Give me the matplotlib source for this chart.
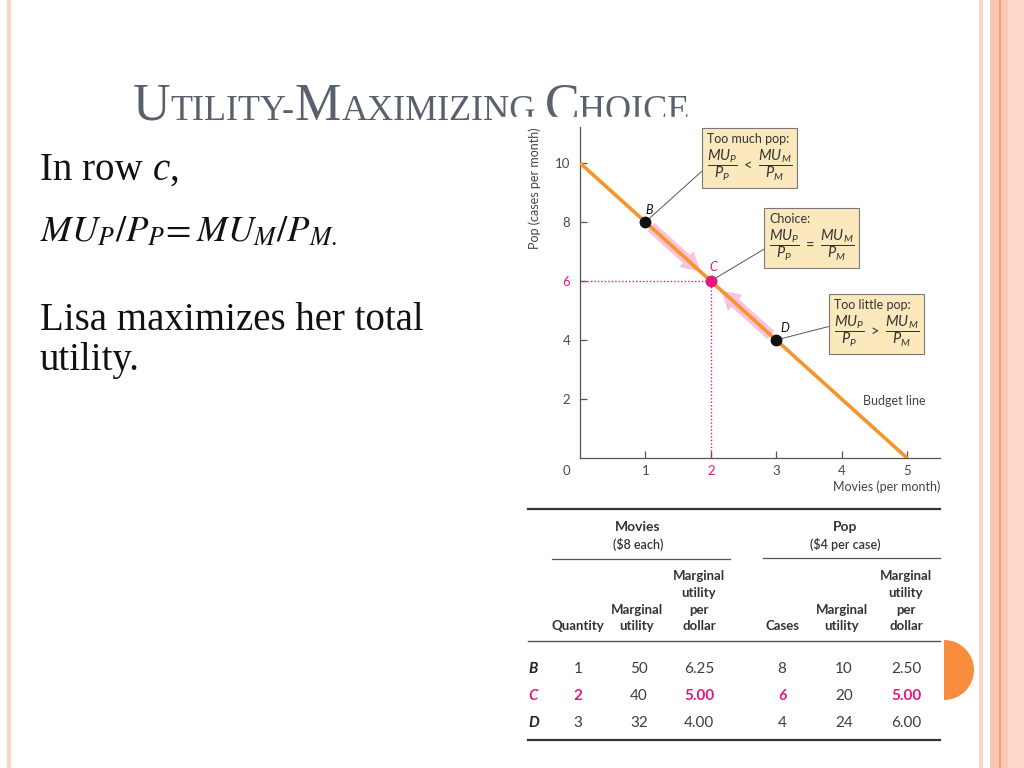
import matplotlib
matplotlib.use("Agg")
import matplotlib.pyplot as plt
from matplotlib.patches import FancyArrowPatch, Rectangle, Wedge
from matplotlib.offsetbox import TextArea, VPacker, AnnotationBbox

# budget line and the three bundles on it
budget_movies = [0, 5]
budget_pop = [10, 0]
point_labels = ["B", "C", "D"]
point_movies = [1, 2, 3]
point_pop = [8, 6, 4]
choice = 1  # row C is the chosen bundle

x_ticks = [1, 2, 3, 4, 5]
y_ticks = [2, 4, 6, 8, 10]

# callout boxes
box_titles = ["Too much pop:", "Choice:", "Too little pop:"]
box_signs = ["<", "=", ">"]

# table
price_movies = 8
price_pop = 4
mu_movies = [50, 40, 32]
mu_per_dollar_movies = [6.25, 5.00, 4.00]
mu_pop = [10, 20, 24]
mu_per_dollar_pop = [2.50, 5.00, 6.00]

ORANGE = "#f5952b"
PINK = "#e5177d"
PINK_LIGHT = "#f9c3de"
BOX = "#fbe9bd"
INK = "#3d3d3d"
SANS = "Lato"
SERIF = "Liberation Serif"

plt.rcParams["mathtext.fontset"] = "custom"
plt.rcParams["mathtext.it"] = "Lato:italic"
plt.rcParams["mathtext.rm"] = "Lato"
plt.rcParams["mathtext.sf"] = "Lato"

fig = plt.figure(figsize=(10.24, 7.68), dpi=100)
fig.patch.set_facecolor("white")
renderer = fig.canvas.get_renderer()

# slide background, pixel coordinates
bg = fig.add_axes([0, 0, 1, 1])
bg.set_xlim(0, 1024)
bg.set_ylim(768, 0)
bg.axis("off")

for x0, x1, c in [(7, 11, "#fcd3c4"), (979, 983, "#fcd5c5"), (990, 999, "#f9c6b0"),
                  (999, 1000.5, "#f2a07e"), (1000.5, 1008, "#fbcab5"), (1008, 1024, "#fdd8c8")]:
    bg.axvspan(x0, x1, color=c, lw=0)
bg.add_patch(Wedge((944, 670), 30, -90, 90, color="#f98c3d", lw=0))


def runs(x, y, parts, **kw):
    for s, props in parts:
        t = bg.text(x, y, s, va="baseline", ha="left", **kw, **props)
        x += t.get_window_extent(renderer).width
    return x


# title in small caps
big, small = 37.5, 26
runs(133, 120, [("U", {"fontsize": big}), ("TILITY-", {"fontsize": small}),
                ("M", {"fontsize": big}), ("AXIMIZING", {"fontsize": small}),
                ("\u00a0", {"fontsize": small}),
                ("C", {"fontsize": big}), ("HOICE", {"fontsize": small})],
     family=SERIF, color="#5a616d")
bg.add_patch(Rectangle((498, 117), 260, 14, color="white", zorder=5))

# left text
body = 28
runs(40, 180, [("In row ", {}), ("c", {"style": "italic"}), (",", {})],
     family=SERIF, fontsize=body, color="#111111")
bg.text(40, 241, r"$MU_P/P_P\!= MU_M/P_{M.}$", math_fontfamily="stix",
        fontsize=26.5, color="#111111", va="baseline")
bg.text(40, 330, "Lisa maximizes her total", family=SERIF, fontsize=body,
        color="#111111", va="baseline")
bg.text(40, 370, "utility.", family=SERIF, fontsize=body, color="#111111",
        va="baseline")

# chart
ax = fig.add_axes([580 / 1024, 1 - 458 / 768, 360 / 1024, 331 / 768])
ax.set_facecolor("none")
ax.set_xlim(0, 360 / 65.4)
ax.set_ylim(0, 331 / 29.5)
for side in ("top", "right"):
    ax.spines[side].set_visible(False)
for side in ("left", "bottom"):
    ax.spines[side].set_color("#555555")
    ax.spines[side].set_linewidth(0.9)

ax.set_xticks(x_ticks, labels=[str(v) for v in x_ticks])
ax.set_yticks(y_ticks, labels=[str(v) for v in y_ticks])
ax.tick_params(direction="in", length=5, width=0.9, color="#555555",
               labelcolor="#4a4a4a", labelsize=9.5)
ax.tick_params(axis="x", pad=5)
ax.tick_params(axis="y", pad=7)
for lab in ax.get_xticklabels() + ax.get_yticklabels():
    lab.set_family(SANS)
ax.get_xticklabels()[x_ticks.index(point_movies[choice])].set_color(PINK)
ax.get_yticklabels()[y_ticks.index(point_pop[choice])].set_color(PINK)
ax.annotate("0", xy=(0, 0), xytext=(-10, -9.5), textcoords="offset points",
            ha="center", va="center", family=SANS, fontsize=9.5, color="#4a4a4a")

ax.text(-0.125, 1.0, "Pop (cases per month)", rotation=90, va="top", ha="center",
        transform=ax.transAxes, family=SANS, fontsize=9, color="#444444")
ax.text(1.0, -0.088, "Movies (per month)", ha="right", va="center",
        transform=ax.transAxes, family=SANS, fontsize=9, color="#444444")

ax.plot(budget_movies, budget_pop, color=ORANGE, lw=2.6, solid_capstyle="butt", zorder=3)
ax.text(4.33, 1.93, "Budget line", ha="left", va="center", family=SANS,
        fontsize=9, color="#444444")

cx, cy = point_movies[choice], point_pop[choice]
ax.plot([0, cx], [cy, cy], color=PINK, lw=1, ls=(0, (1, 1.5)), zorder=2)
ax.plot([cx, cx], [0, cy], color=PINK, lw=1, ls=(0, (1, 1.5)), zorder=2)

for i in range(len(point_movies)):
    if i == choice:
        continue
    px, py = point_movies[i], point_pop[i]
    start = (px + 0.05 * (cx - px), py + 0.05 * (cy - py))
    end = (cx - 0.13 * (cx - px), cy - 0.13 * (cy - py))
    ax.add_patch(FancyArrowPatch(start, end, color=PINK_LIGHT, lw=0, zorder=2,
                                 arrowstyle="simple,head_width=2.2,head_length=1.9,tail_width=1.1",
                                 mutation_scale=7))

label_offsets = [(3, 9), (2, 10), (6, 8.5)]
box_xy = [(0.353, 0.982), (0.525, 0.740), (0.705, 0.480)]
box_rel = [(0, 0.33), (0, 0.34), (0, 0.48)]
for i, lab in enumerate(point_labels):
    col = PINK if i == choice else "#111111"
    ax.plot(point_movies[i], point_pop[i], "o", color=col, ms=7.5, zorder=5)
    ax.annotate(lab, xy=(point_movies[i], point_pop[i]), xytext=label_offsets[i],
                textcoords="offset points", ha="center", va="center",
                family=SANS, style="italic", fontsize=9, color=col)
    frac = r"$\dfrac{MU_P}{P_P}\ %s\ \dfrac{MU_M}{P_M}$" % box_signs[i]
    content = VPacker(children=[
        TextArea(box_titles[i], textprops=dict(family=SANS, fontsize=9, color="#333333")),
        TextArea(frac, textprops=dict(family=SANS, fontsize=10.5, color="#333333",
                                      math_fontfamily="custom")),
    ], align="left", pad=0, sep=2)
    ab = AnnotationBbox(content, (point_movies[i], point_pop[i]), xybox=box_xy[i],
                        boxcoords="axes fraction", box_alignment=(0, 1), pad=0.3,
                        bboxprops=dict(fc=BOX, ec="#7a7a7a", lw=0.8, boxstyle="square,pad=0.35"),
                        arrowprops=dict(arrowstyle="-", color="#555555", lw=0.7,
                                        shrinkA=0, shrinkB=0, relpos=box_rel[i]),
                        zorder=4)
    ax.add_artist(ab)

# table
bg.plot([528, 940], [509, 509], color="#333333", lw=1.6)
bg.plot([552, 730], [559, 559], color="#555555", lw=0.9)
bg.plot([763, 940], [558, 558], color="#555555", lw=0.9)
bg.plot([528, 940], [641, 641], color="#555555", lw=1.0)
bg.plot([528, 940], [740, 740], color="#333333", lw=1.6)

group_x = [638, 845]
group_names = ["Movies", "Pop"]
group_prices = ["(\\$%d each)" % price_movies, "(\\$%d per case)" % price_pop]
for gx, name, price in zip(group_x, group_names, group_prices):
    bg.text(gx, 531, name, ha="center", va="baseline", family=SANS,
            weight="bold", fontsize=10, color="#333333")
    bg.text(gx, 549, price, ha="center", va="baseline", family=SANS,
            weight="semibold", fontsize=9, color="#333333")

col_x = [578, 637, 699, 782, 842, 906]
col_heads = [["Quantity"], ["Marginal", "utility"], ["Marginal", "utility", "per", "dollar"],
             ["Cases"], ["Marginal", "utility"], ["Marginal", "utility", "per", "dollar"]]
for x, lines in zip(col_x, col_heads):
    for k, line in enumerate(reversed(lines)):
        bg.text(x, 630 - 16.5 * k, line, ha="center", va="baseline", family=SANS,
                weight="bold", fontsize=9.5, color="#333333")

columns = [
    [str(v) for v in point_movies],
    [str(v) for v in mu_movies],
    ["%.2f" % v for v in mu_per_dollar_movies],
    [str(v) for v in point_pop],
    [str(v) for v in mu_pop],
    ["%.2f" % v for v in mu_per_dollar_pop],
]
highlight = {0: {"weight": "bold"}, 2: {"weight": "bold"},
             3: {"weight": "bold", "style": "italic"}, 5: {"weight": "bold"}}
row_y = [673, 700, 727]
for r, y in enumerate(row_y):
    is_c = r == choice
    bg.text(528, y, point_labels[r], ha="left", va="baseline", family=SANS,
            weight="bold", style="italic", fontsize=11,
            color=PINK if is_c else "#222222")
    for c, (x, vals) in enumerate(zip(col_x, columns)):
        props = {}
        color = INK
        if is_c and c in highlight:
            props = highlight[c]
            color = PINK
        bg.text(x + (2 if c in (1, 4) else 0), y, vals[r], ha="center", va="baseline",
                family=SANS, fontsize=11, color=color, **props)

fig.savefig("out.png", dpi=100)
